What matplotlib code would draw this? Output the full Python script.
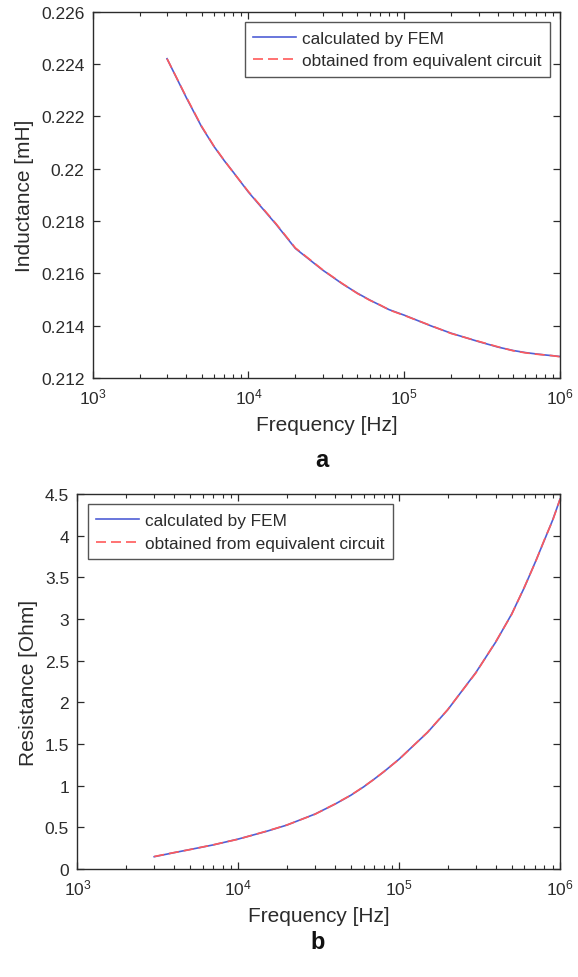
import matplotlib
matplotlib.use("Agg")
import matplotlib.pyplot as plt
from matplotlib.ticker import LogLocator, NullFormatter, FixedLocator

plt.rcParams['font.family'] = ['Liberation Sans', 'DejaVu Sans']

# Frequency sweep [Hz]
freq = [3e3, 4e3, 5e3, 6e3, 7e3, 8e3, 1e4, 1.5e4, 2e4, 3e4, 4e4, 5e4, 6e4,
        7e4, 8e4, 1e5, 1.5e5, 2e5, 3e5, 4e5, 5e5, 6e5, 7e5, 8e5, 9e5, 1e6]

# Inductance [mH]
L_fem = [0.2242, 0.2227, 0.2216, 0.22085, 0.2203, 0.21986, 0.2191, 0.21788,
         0.21695, 0.21612, 0.21560, 0.21524, 0.21498, 0.21478, 0.21461, 0.21440,
         0.21398, 0.21371, 0.21339, 0.21318, 0.21305, 0.21297, 0.21292, 0.21288,
         0.21285, 0.21282]
L_circuit = [0.2242, 0.22272, 0.22162, 0.22086, 0.22031, 0.21985, 0.21912, 0.21790,
             0.21697, 0.21613, 0.21561, 0.21523, 0.21497, 0.21479, 0.21460, 0.21439,
             0.21399, 0.21370, 0.21340, 0.21319, 0.21304, 0.21296, 0.21291, 0.21288,
             0.21285, 0.21281]

# Resistance [Ohm]
R_fem = [0.148, 0.197, 0.234, 0.264, 0.290, 0.316, 0.36, 0.453, 0.527, 0.660,
         0.780, 0.885, 0.985, 1.080, 1.165, 1.32, 1.64, 1.91, 2.36, 2.73, 3.06,
         3.38, 3.68, 3.95, 4.19, 4.44]
R_circuit = [0.150, 0.198, 0.233, 0.265, 0.291, 0.317, 0.358, 0.455, 0.528, 0.658,
             0.782, 0.886, 0.987, 1.079, 1.167, 1.318, 1.642, 1.912, 2.355, 2.735, 3.055,
             3.385, 3.675, 3.955, 4.185, 4.44]

legend_labels = ["calculated by FEM", "obtained from equivalent circuit"]

INK = "#2b2b2b"
BLUE = "#4f5fd6"
RED = "#ff5a5a"

fig = plt.figure(figsize=(5.78, 9.78), dpi=100)


def style_axes(ax):
    ax.set_xscale("log")
    ax.set_xlim(1e3, 1e6)
    ax.xaxis.set_major_locator(LogLocator(base=10, numticks=10))
    ax.xaxis.set_minor_locator(LogLocator(base=10, subs=range(2, 10), numticks=20))
    ax.xaxis.set_minor_formatter(NullFormatter())
    ax.tick_params(which="both", direction="in", top=True, right=True,
                   colors=INK, labelsize=12.5, pad=6)
    ax.tick_params(which="major", length=5, width=0.9)
    ax.tick_params(which="minor", length=3, width=0.8)
    for s in ax.spines.values():
        s.set_color(INK)
        s.set_linewidth(1.0)
    ax.set_xlabel("Frequency [Hz]", fontsize=15, color=INK, labelpad=6)


def draw(ax, y1, y2, legend_loc):
    ax.plot(freq, y1, color=BLUE, lw=1.2, label=legend_labels[0])
    ln, = ax.plot(freq, y2, color=RED, lw=1.2, label=legend_labels[1])
    ln.set_dashes((6, 3))
    leg = ax.legend(loc=legend_loc, fontsize=12.4, frameon=True, fancybox=False,
                    edgecolor=INK, handlelength=2.5, borderpad=0.5,
                    labelspacing=0.45, handletextpad=0.3, borderaxespad=0.6)
    leg.get_frame().set_linewidth(1.0)
    for t in leg.get_texts():
        t.set_color(INK)


# Panel a: inductance
ax1 = fig.add_axes([0.1604, 0.6125, 0.8085, 0.3746])
style_axes(ax1)
draw(ax1, L_fem, L_circuit, "upper right")
ax1.set_ylim(0.212, 0.226)
ax1.yaxis.set_major_locator(FixedLocator([0.212, 0.214, 0.216, 0.218, 0.22, 0.222, 0.224, 0.226]))
ax1.set_yticklabels(["0.212", "0.214", "0.216", "0.218", "0.22", "0.222", "0.224", "0.226"])
ax1.set_ylabel("Inductance [mH]", fontsize=15, color=INK, labelpad=5)
fig.text(0.557, 0.529, "a", fontsize=17, fontweight="bold", ha="center", va="center", color="#111111")

# Panel b: resistance
ax2 = fig.add_axes([0.134, 0.1104, 0.835, 0.3834])
style_axes(ax2)
draw(ax2, R_fem, R_circuit, "upper left")
ax2.set_ylim(0, 4.5)
ax2.yaxis.set_major_locator(FixedLocator([0, 0.5, 1, 1.5, 2, 2.5, 3, 3.5, 4, 4.5]))
ax2.set_yticklabels(["0", "0.5", "1", "1.5", "2", "2.5", "3", "3.5", "4", "4.5"])
ax2.set_ylabel("Resistance [Ohm]", fontsize=15, color=INK, labelpad=5)
fig.text(0.550, 0.036, "b", fontsize=17, fontweight="bold", ha="center", va="center", color="#111111")

fig.savefig("out.png", dpi=100)
